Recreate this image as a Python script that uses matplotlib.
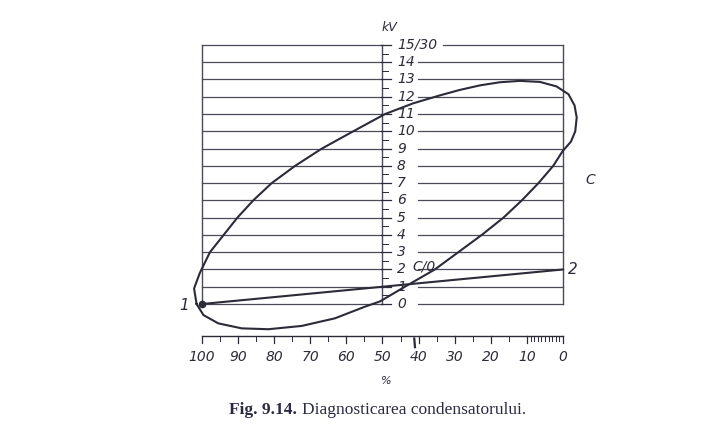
import numpy as np
import matplotlib
matplotlib.use("Agg")
import matplotlib.pyplot as plt

# capacitor diagnostic loop (x in %, y in kV)
loop_pct = [101.5, 102.2, 100.6, 97.8, 94.0, 90.2, 85.8, 80.7, 74.2, 66.8,
            58.1, 49.3, 41.5, 34.1, 28.5, 23.0, 17.5, 11.9, 6.4, 1.8,
            -1.5, -3.2, -3.8, -3.4, -2.2, 0.1, 2.7, 6.8, 11.4, 16.5,
            22.5, 29.0, 35.5, 43.8, 50.7, 54.8, 63.2, 72.4, 81.6, 89.0,
            95.5, 99.6, 101.5]
loop_kv = [0.0, 0.9, 1.8, 3.0, 4.0, 5.0, 6.0, 7.0, 8.0, 9.0,
           10.0, 11.0, 11.62, 12.08, 12.40, 12.66, 12.84, 12.92, 12.86, 12.6,
           12.15, 11.5, 10.8, 10.0, 9.4, 8.85, 8.0, 7.0, 6.0, 5.0,
           4.0, 3.0, 2.0, 1.0, 0.15, -0.15, -0.83, -1.27, -1.46, -1.41,
           -1.12, -0.64, 0.0]

# straight line 1 -> 2
line_pct = [100, 0]
line_kv = [0, 2]

kv_ticks = list(range(16))
kv_labels = [str(v) for v in range(15)] + ["15/30"]
pct_major = list(range(100, -1, -10))
pct_minor = list(range(95, 5, -10)) + list(range(9, 0, -1))

ink = "#2b2b3a"
grid_ink = "#4a4a58"

fig = plt.figure(figsize=(7.05, 4.36), dpi=100)
ax = fig.add_axes([0, 0, 1, 1])
ax.set_xlim(155.96, -39.34)
ax.set_ylim(-7.643, 17.603)
ax.axis("off")

# horizontal grid lines, broken on the right of the kV scale for the labels
for v in kv_ticks:
    ax.plot([100, 50], [v, v], color=grid_ink, lw=0.9)
    start = 33.2 if v == 15 else 40.2
    ax.plot([start, 0], [v, v], color=grid_ink, lw=0.9)

# frame and central kV axis
for xv in (100, 50, 0):
    ax.plot([xv, xv], [0, 15], color=grid_ink, lw=1.0)
for v in kv_ticks:
    ax.plot([50.4, 47.7], [v, v], color=ink, lw=0.9)
    ax.text(46.0, v, kv_labels[v], ha="left", va="center", fontsize=10,
            style="italic", color=ink)
for v in np.arange(0.5, 15, 1.0):
    ax.plot([50.0, 48.6], [v, v], color=ink, lw=0.7)
ax.text(48.0, 16.0, "kV", ha="center", va="center", fontsize=9,
        style="italic", color=ink)

# separate percent scale below
ax.plot([100, 0], [-1.85, -1.85], color=ink, lw=1.0)
for p in pct_major:
    ax.plot([p, p], [-1.85, -2.25], color=ink, lw=0.9)
    ax.text(p, -3.07, str(p), ha="center", va="center", fontsize=10,
            style="italic", color=ink)
for p in pct_minor:
    ax.plot([p, p], [-1.85, -2.15], color=ink, lw=0.7)
ax.plot([41.2, 41.0], [-2.0, -2.5], color=ink, lw=1.6)
ax.text(49.0, -4.45, "%", ha="center", va="center", fontsize=8,
        style="italic", color=ink)

# curves
ax.plot(loop_pct, loop_kv, color=ink, lw=1.5, solid_joinstyle="round")
ax.plot(line_pct, line_kv, color=ink, lw=1.5)
ax.plot([100], [0], "o", color=ink, ms=4.5)

ax.text(104.9, -0.1, "1", ha="center", va="center", fontsize=11,
        style="italic", color=ink)
ax.text(-2.8, 2.0, "2", ha="center", va="center", fontsize=11,
        style="italic", color=ink)
ax.text(-7.5, 7.2, "C", ha="center", va="center", fontsize=10,
        style="italic", color=ink)
ax.text(38.5, 2.2, "C/0", ha="center", va="center", fontsize=10,
        style="italic", color=ink)

fig.text(229 / 705, 1 - 410 / 436, "Fig. 9.14.", ha="left", va="center",
         fontsize=12.5, fontweight="bold", family="Liberation Serif", color="#2a2a40")
fig.text(302 / 705, 1 - 410 / 436, "Diagnosticarea condensatorului.",
         ha="left", va="center", fontsize=12.5, family="Liberation Serif",
         color="#2a2a40")

fig.savefig("out.png", dpi=100, facecolor="white")
